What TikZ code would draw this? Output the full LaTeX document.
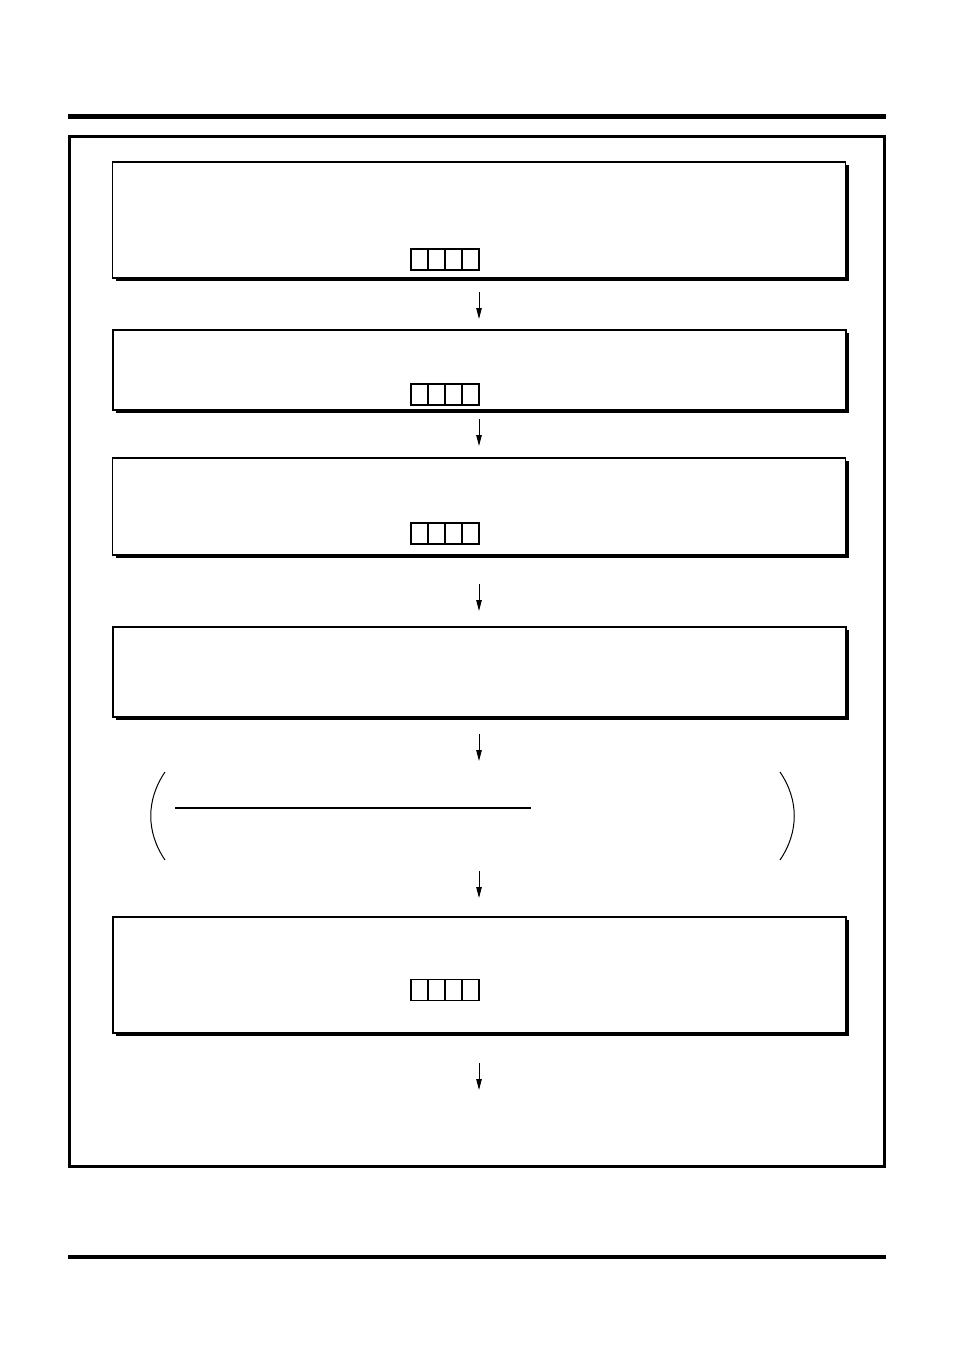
\documentclass[tikz,border=0pt]{standalone}
\usetikzlibrary{arrows.meta,shadows}
\begin{document}
\begin{tikzpicture}[x=1pt,y=-1pt,
  stepbox/.style={draw=black,fill=white,line width=1.4pt,inner sep=0pt,outer sep=0pt,
    minimum width=733pt,
    drop shadow={shadow xshift=3pt,shadow yshift=-3pt,fill=black,opacity=1}},
  cell/.style={draw=black,line width=1.3pt,inner sep=0pt,outer sep=0pt,minimum width=17pt,minimum height=21pt},
  flow/.style={line width=1pt,-{Triangle[length=11pt,width=5.5pt]}},
  paren/.style={line width=1pt}]
\useasboundingbox (0,0) rectangle (954,1351);
% header and footer rules
\coordinate (tl) at (68,117); \coordinate (tr) at (886,117);
\draw[line width=5pt] (tl) -- (tr);
\coordinate (bl) at (68,1257); \coordinate (br) at (886,1257);
\draw[line width=3.5pt] (bl) -- (br);
% outer frame
\node[draw=black,line width=3.5pt,minimum width=815pt,minimum height=1030pt,inner sep=0pt] (frame) at (477,651.5) {};
% boxes
\node[stepbox,minimum height=116pt] (b1) at (479,220) {};
\node[stepbox,minimum height=80pt] (b2) at (479.5,370) {};
\node[stepbox,minimum height=97pt] (b3) at (479,506.5) {};
\node[stepbox,minimum height=90pt] (b4) at (479.5,672) {};
\node[stepbox,minimum height=116pt] (b5) at (479.5,975) {};
% cells
\foreach \n/\y in {1/259.5,2/394.5,3/533.5,5/990}{
  \node[cell] (c\n a) at (419.5,\y) {};
  \node[cell,anchor=west] (c\n b) at (c\n a.east) {};
  \node[cell,anchor=west] (c\n c) at (c\n b.east) {};
  \node[cell,anchor=west] (c\n d) at (c\n c.east) {};
}
% arrows
\coordinate (a1s) at (479,292); \coordinate (a1e) at (479,319);
\coordinate (a2s) at (479,419); \coordinate (a2e) at (479,446);
\coordinate (a3s) at (479,584); \coordinate (a3e) at (479,611);
\coordinate (a4s) at (479,734); \coordinate (a4e) at (479,761);
\coordinate (a5s) at (479,871); \coordinate (a5e) at (479,898);
\coordinate (a6s) at (479,1063); \coordinate (a6e) at (479,1090);
\foreach \i in {1,...,6}{\draw[flow] (a\i s) -- (a\i e);}
% bracketed formula
\coordinate (pl1) at (165,772); \coordinate (pl2) at (165,860);
\draw[paren] (pl1) .. controls (146,800) and (146,832) .. (pl2);
\coordinate (pr1) at (780,772); \coordinate (pr2) at (780,860);
\draw[paren] (pr1) .. controls (799,800) and (799,832) .. (pr2);
\coordinate (fl) at (175,808); \coordinate (fr) at (531,808);
\draw[line width=2.2pt] (fl) -- (fr);
\end{tikzpicture}
\end{document}
